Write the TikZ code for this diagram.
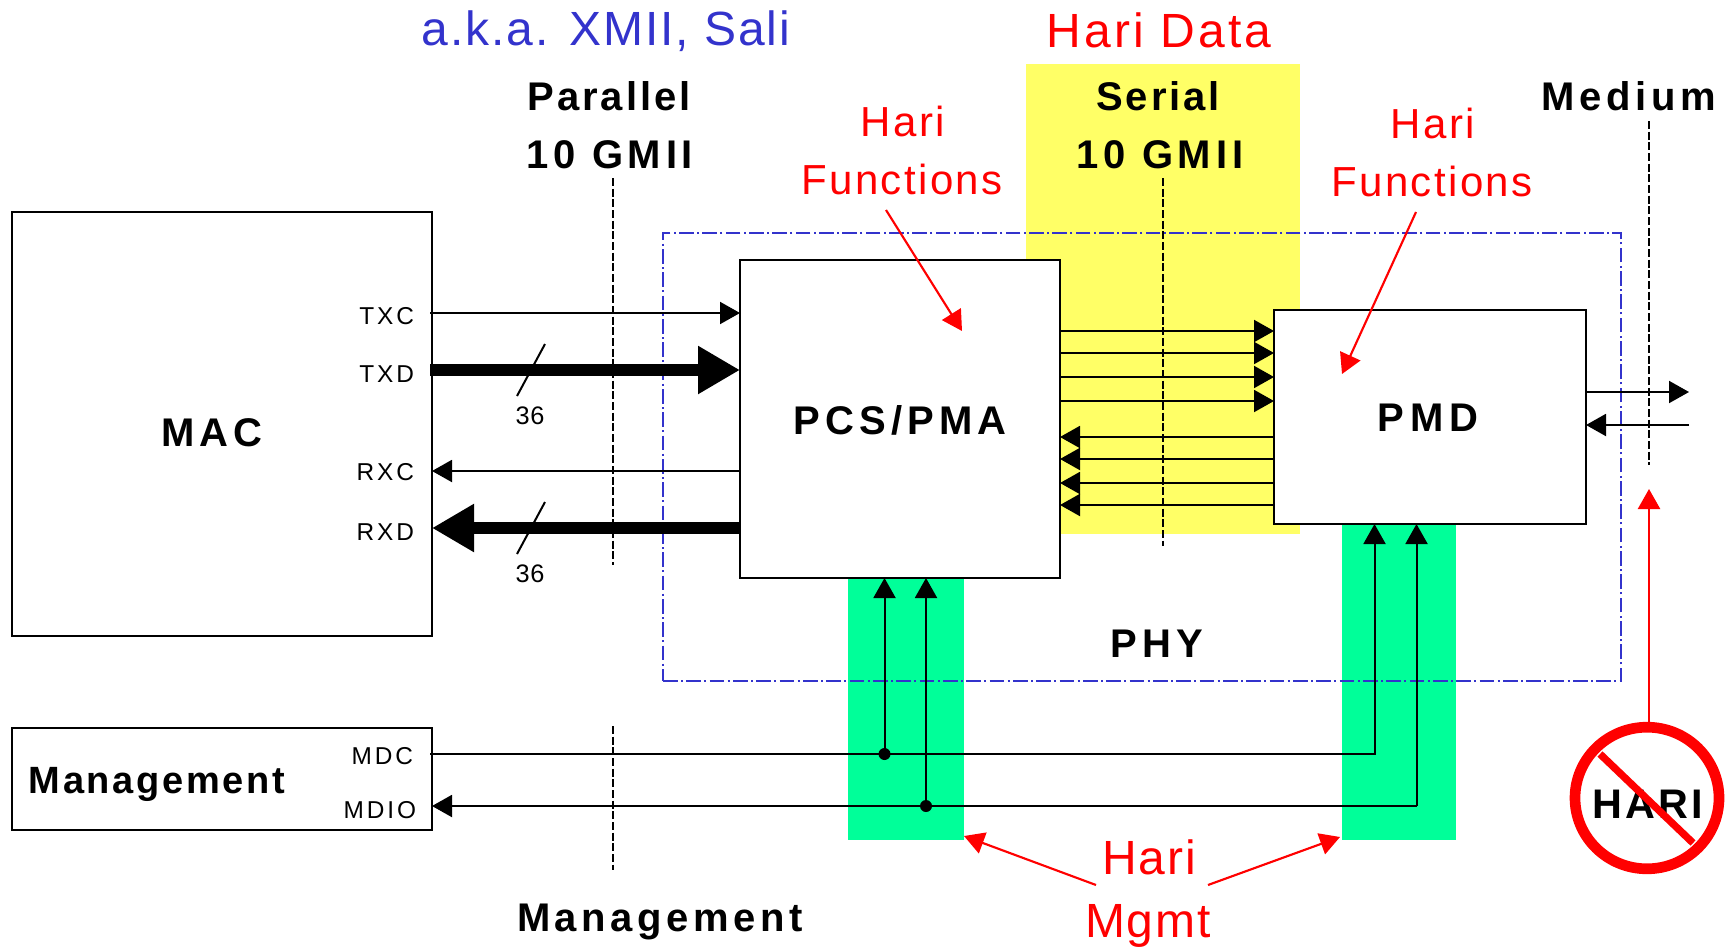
\documentclass[tikz,border=0pt]{standalone}
\usepackage{fontspec}
\setmainfont{Liberation Sans}
\usetikzlibrary{arrows.meta,calc,shapes.geometric}
\definecolor{hblue}{HTML}{3333CC}
\definecolor{hyellow}{HTML}{FFFF66}
\definecolor{hgreen}{HTML}{00FF99}
\newcommand\fnt[2]{\fontsize{#1}{#1}\selectfont\addfontfeature{LetterSpace=#2}}
\tikzset{
  box/.style={draw=black,line width=1.5pt,fill=white,outer sep=0pt,inner sep=0pt},
  band/.style={fill=#1,draw=none,outer sep=0pt,inner sep=0pt},
  lab/.style={inner sep=0pt,outer sep=0pt,anchor=center,align=center},
  biglab/.style={lab,font=\bfseries\fnt{30}{#1}},
  sig/.style={lab,anchor=east,font=\fnt{18.3}{12}},
  redlab/.style={lab,text=red,font=\fnt{31.5}{5.8}},
  redbig/.style={lab,text=red,font=\fnt{36}{#1}},
  wire/.style={draw=black,line width=1.5pt},
  thin head/.style={-{Triangle[length=15pt,width=16.5pt]}},
  fat/.style={draw=black,line width=9pt,-{Triangle[length=31.5pt,width=34pt]}},
  boundary/.style={draw=black,line width=1.2pt,dash pattern=on 6pt off 2pt},
  redarrow/.style={draw=red,line width=1.6pt,-{Triangle[length=15pt,width=16.5pt]}},
}
\begin{document}
\begin{tikzpicture}[x=0.75pt,y=-0.75pt]
\useasboundingbox (0,0) rectangle (1731,946);
% coloured bands
\node[band=hyellow,minimum width=274*0.75pt,minimum height=470*0.75pt] (serialband) at (1163,299) {};
\node[band=hgreen,minimum width=116*0.75pt,minimum height=263*0.75pt] (greena) at (906,708.5) {};
\node[band=hgreen,minimum width=114*0.75pt,minimum height=316*0.75pt] (greenb) at (1399,682) {};
% PHY boundary
\node[draw=hblue,line width=1.2pt,dash pattern=on 11pt off 2.5pt on 1.5pt off 2.5pt,inner sep=0pt,outer sep=0pt,minimum width=958*0.75pt,minimum height=448*0.75pt] (phy) at (1142,457) {};
% boundary lines
\coordinate (pa) at (613,178); \coordinate (pb) at (613,565);
\coordinate (sa) at (1163,178); \coordinate (sb) at (1163,546);
\coordinate (ma) at (1649,121); \coordinate (mb) at (1649,465);
\coordinate (ga) at (613,726); \coordinate (gb) at (613,870);
\draw[boundary] (pa) -- (pb);
\draw[boundary] (sa) -- (sb);
\draw[boundary] (ma) -- (mb);
\draw[boundary] (ga) -- (gb);
% boxes
\node[box,minimum width=420*0.75pt,minimum height=424*0.75pt] (mac) at (222,424) {};
\node[box,minimum width=420*0.75pt,minimum height=102*0.75pt] (mgt) at (222,779) {};
\node[box,minimum width=320*0.75pt,minimum height=318*0.75pt] (pcs) at (900,419) {};
\node[box,minimum width=312*0.75pt,minimum height=214*0.75pt] (pmd) at (1430,417) {};
% parallel interface
\coordinate (ytxc) at (0,313); \coordinate (ytxd) at (0,370);
\coordinate (yrxc) at (0,471); \coordinate (yrxd) at (0,528);
\draw[wire,thin head] ([xshift=-1.5pt]mac.east |- ytxc) -- (pcs.west |- ytxc);
\draw[fat] ([xshift=-1.5pt]mac.east |- ytxd) -- (pcs.west |- ytxd);
\draw[wire,thin head] (pcs.west |- yrxc) -- (mac.east |- yrxc);
\draw[fat] (pcs.west |- yrxd) -- (mac.east |- yrxd);
\coordinate (s1a) at (517,396); \coordinate (s1b) at (545,344);
\coordinate (s2a) at (517,554); \coordinate (s2b) at (545,502);
\draw[wire] (s1a) -- (s1b);
\draw[wire] (s2a) -- (s2b);
% serial lines
\foreach \y in {331,353,377,401} {
  \coordinate (yy) at (0,\y);
  \draw[wire,thin head] (pcs.east |- yy) -- (pmd.west |- yy);
}
\foreach \y in {437,459,483,505} {
  \coordinate (yy) at (0,\y);
  \draw[wire,thin head] (pmd.west |- yy) -- (pcs.east |- yy);
}
% medium side
\coordinate (mo) at (1689,392); \coordinate (mi) at (1689,425);
\draw[wire,thin head] (pmd.east |- mo) -- (mo);
\draw[wire,thin head] (mi) -- (pmd.east |- mi);
% management bus
\coordinate (ymdc) at (0,754); \coordinate (ymdio) at (0,806);
\coordinate (x1) at (884.5,0); \coordinate (x2) at (926,0);
\coordinate (x3) at (1374.5,0); \coordinate (x4) at (1416.5,0);
\draw[wire,thin head] ([xshift=-1.5pt]mgt.east |- ymdc) -| (x3 |- pmd.south);
\draw[wire,thin head] (x4 |- ymdio) -- (x4 |- pmd.south);
\draw[wire,thin head] (x4 |- ymdio) -- (mgt.east |- ymdio);
\draw[wire,thin head] (x1 |- ymdc) -- (x1 |- pcs.south);
\draw[wire,thin head] (x2 |- ymdio) -- (x2 |- pcs.south);
\fill[black] (x1 |- ymdc) circle[radius=6];
\fill[black] (x2 |- ymdio) circle[radius=6];
% box texts
\node[biglab=13] (tmac) at (212,433) {MAC};
\node[biglab=7,font=\bfseries\fnt{28.5}{7}] (tmgt) at (157,784) {Management};
\node[biglab=13] (tpcs) at (900,420) {PCS/PMA};
\node[biglab=16] (tpmd) at (1428,418) {PMD};
\node[biglab=12.5] (tphy) at (1157,644) {PHY};
% signal labels
\node[sig] (ltxc) at (414,316) {TXC};
\node[sig] (ltxd) at (414,374) {TXD};
\node[sig] (lrxc) at (414,472) {RXC};
\node[sig] (lrxd) at (414,532) {RXD};
\node[sig] (lmdc) at (413,756) {MDC};
\node[sig] (lmdio) at (416,810) {MDIO};
\node[lab,font=\fnt{19}{3}] (n36a) at (530,416) {36};
\node[lab,font=\fnt{19}{3}] (n36b) at (530,574) {36};
% headers
\node[lab,text=hblue,font=\fnt{36}{4}] (aka) at (606,31) {a.k.a. XMII, Sali};
\node[redbig=6.5] (hdata) at (1159,30) {Hari Data};
\node[biglab=7.5] (par1) at (609,96) {Parallel};
\node[biglab=12] (par2) at (610,155) {10 GMII};
\node[biglab=7] (ser1) at (1158,96) {Serial};
\node[biglab=12] (ser2) at (1160,155) {10 GMII};
\node[biglab=12] (med) at (1629,96) {Medium};
\node[biglab=11.5] (mgb) at (660,922) {Management};
\node[redlab] (hf1a) at (903,121) {Hari};
\node[redlab] (hf1b) at (902,179) {Functions};
\node[redlab] (hf2a) at (1433,123) {Hari};
\node[redlab] (hf2b) at (1432,181) {Functions};
\node[redbig=4] (hm1) at (1149,857) {Hari};
\node[redbig=4] (hm2) at (1148,926) {Mgmt};
% red arrows
\coordinate (r1a) at (886,210); \coordinate (r1b) at (962,331);
\coordinate (r2a) at (1416,212); \coordinate (r2b) at (1342,374);
\coordinate (r3a) at (1096,885); \coordinate (r3b) at (964,836);
\coordinate (r4a) at (1208,885); \coordinate (r4b) at (1340,837);
\draw[redarrow] (r1a) -- (r1b);
\draw[redarrow] (r2a) -- (r2b);
\draw[redarrow] (r3a) -- (r3b);
\draw[redarrow] (r4a) -- (r4b);
% no-HARI sign
\node[lab,font=\bfseries\fnt{31}{8}] (hari) at (1648,804) {HARI};
\node[draw=red,line width=8pt,ellipse,inner sep=0pt,outer sep=0pt,minimum width=144*0.75pt,minimum height=141.6*0.75pt] (nosign) at (1647,798) {};
\coordinate (n1) at (1600,754); \coordinate (n2) at (1693,843);
\draw[red,line width=5.5pt] (n1) -- (n2);
\coordinate (nb) at (1649,722); \coordinate (nt) at (1649,489);
\draw[draw=red,line width=1.8pt,-{Triangle[length=15pt,width=16.5pt]}] (nb) -- (nt);
\end{tikzpicture}
\end{document}
